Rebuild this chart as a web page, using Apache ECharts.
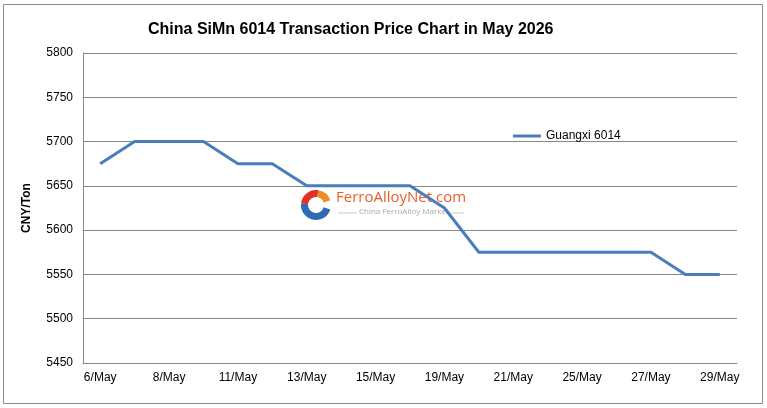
<!DOCTYPE html>
<html><head><meta charset="utf-8">
<script src="https://cdn.jsdelivr.net/npm/echarts@6/dist/echarts.min.js"></script>
<style>html,body{margin:0;padding:0;background:#fff}#c{width:767px;height:408px}</style>
</head><body><div id="c"></div>
<script>
const categories = ['6/May','7/May','8/May','9/May','11/May','12/May','13/May','14/May','15/May','18/May','19/May','20/May','21/May','22/May','25/May','26/May','27/May','28/May','29/May'];
const guangxi6014 = [5675,5700,5700,5700,5675,5675,5650,5650,5650,5650,5625,5575,5575,5575,5575,5575,5575,5550,5550];
const yMin = 5450, yMax = 5800, yStep = 50;
const seriesName = 'Guangxi 6014';
const titleText = 'China SiMn 6014 Transaction Price Chart in May 2026';
const yAxisName = 'CNY/Ton';

const chart = echarts.init(document.getElementById('c'), null, {renderer:'canvas'});
const F = 'Arial, "Liberation Sans", sans-serif';
chart.setOption({
  animation:false,
  backgroundColor:'#fff',
  title:{text:titleText,left:143,top:17,textStyle:{fontFamily:F,fontSize:16,fontWeight:'bold',color:'#000'}},
  legend:{data:[seriesName],left:508,top:125,icon:'rect',itemWidth:28,itemHeight:3,itemGap:4,
    textStyle:{fontFamily:F,fontSize:12,color:'#000'}},
  grid:{left:83,right:30,top:53,bottom:45,containLabel:false},
  xAxis:{type:'category',data:categories,boundaryGap:true,
    axisLine:{lineStyle:{color:'#868686',width:1}},axisTick:{show:false},
    axisLabel:{interval:1,color:'#000',fontFamily:F,fontSize:12,margin:9}},
  yAxis:{type:'value',min:yMin,max:yMax,interval:yStep,
    name:yAxisName,nameLocation:'middle',nameGap:50,nameRotate:90,
    nameTextStyle:{fontFamily:F,fontSize:12,fontWeight:'bold',color:'#000'},
    axisLine:{show:true,lineStyle:{color:'#868686'}},axisTick:{show:false},
    axisLabel:{color:'#000',fontFamily:F,fontSize:12,margin:10,formatter:function(v){return String(v);}},
    splitLine:{lineStyle:{color:'#868686',width:1}}},
  series:[{name:seriesName,type:'line',data:guangxi6014,symbol:'none',z:5,
    lineStyle:{color:'#4A7EBB',width:3},itemStyle:{color:'#4A7EBB'}}],
  graphic:[
    {type:'rect',z:-1,shape:{x:3.5,y:4.5,width:759,height:399},style:{fill:'none',stroke:'#8c8c8c',lineWidth:1}},
    {type:'sector',z:1,shape:{cx:316,cy:205,r:15,r0:8,startAngle:0.3,endAngle:Math.PI+0.1},style:{fill:'#2f6bb5'}},
    {type:'sector',z:1,shape:{cx:316,cy:205,r:15,r0:8,startAngle:Math.PI+0.1,endAngle:Math.PI*1.55},style:{fill:'#e0302a'}},
    {type:'sector',z:1,shape:{cx:316,cy:205,r:15,r0:8,startAngle:Math.PI*1.55,endAngle:Math.PI*1.9},style:{fill:'#f08a24'}},
    {type:'text',z:1,left:336,top:190,style:{text:'FerroAlloyNet.com',font:'15px "Open Sans", Arial, sans-serif',fill:'#e8602c'}},
    {type:'line',z:1,shape:{x1:338,y1:213,x2:357,y2:213},style:{stroke:'#c8c8c8',lineWidth:1}},
    {type:'text',z:1,left:359,top:208,style:{text:'China FerroAlloy Market',font:'8px "Open Sans", Arial, sans-serif',fill:'#a8a8a8'}},
    {type:'line',z:1,shape:{x1:446,y1:213,x2:464,y2:213},style:{stroke:'#c8c8c8',lineWidth:1}}
  ]
});
</script></body></html>
